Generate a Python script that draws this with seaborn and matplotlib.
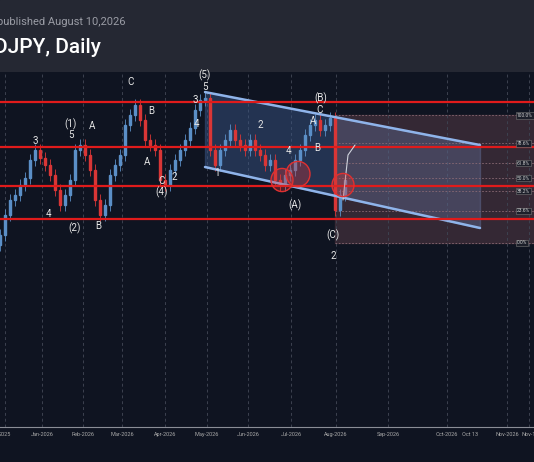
import numpy as np
import matplotlib.pyplot as plt
import seaborn as sns
from matplotlib.patches import Ellipse, Rectangle

closes = [146.5, 148.5, 150.0, 150.5, 151.5, 152.2, 154.0, 155.0, 154.2, 153.5,
          152.5, 151.0, 149.5, 150.5, 152.0, 155.0, 155.5, 154.5, 153.0, 150.0,
          148.5, 149.5, 152.5, 153.5, 154.5, 157.5, 158.5, 159.5, 158.0, 156.0,
          155.5, 155.0, 152.0, 151.5, 153.0, 154.0, 155.0, 156.0, 157.2, 159.0,
          160.0, 160.2, 155.0, 153.5, 155.0, 156.0, 157.0, 156.0, 155.5, 155.0,
          156.0, 155.0, 154.5, 153.5, 154.0, 152.0, 151.5, 152.5, 153.0, 154.0,
          155.0, 156.5, 157.5, 158.0, 157.0, 157.5, 158.2, 149.0, 150.5, 152.0]
red_levels = [159.8, 155.3, 151.4, 148.1]
fib_names = ["100.0%", "78.6%", "61.8%", "50.0%", "38.2%", "23.6%", "0.0%"]
fib_prices = [158.5, 155.7, 153.7, 152.2, 150.9, 148.9, 145.7]
chan_x = [205, 480]
chan_upper = [160.8, 155.5]
chan_lower = [153.3, 147.2]
proj_x = [343, 348, 355]
proj_y = [150.0, 154.5, 155.5]
tick_pos = [5, 42, 83, 122, 165, 207, 248, 291, 336, 388, 447, 470, 507, 529]
tick_lab = ["2025", "Jan-2026", "Feb-2026", "Mar-2026", "Apr-2026", "May-2026",
            "Jun-2026", "Jul-2026", "Aug-2026", "Sep-2026", "Oct-2026", "Oct 13",
            "Nov-2026", "Nov-1"]
waves = [("(5)", 205, 162.5), ("5", 205, 161.3), ("(B)", 321, 160.2), ("C", 320, 159.0),
         ("(C)", 333, 146.5), ("2", 333, 144.4), ("(A)", 295, 149.5), ("(4)", 162, 150.8),
         ("C", 162, 151.9), ("(2)", 75, 147.2), ("B", 98, 147.4), ("(1)", 71, 157.6),
         ("5", 71, 156.5), ("A", 92, 157.4), ("3", 35, 155.9), ("4", 48, 148.6),
         ("1", 217, 152.7), ("2", 174, 152.3), ("A", 147, 153.8), ("B", 151, 158.9),
         ("3", 195, 160.0), ("4", 197, 157.6), ("C", 131, 161.8), ("2", 260, 157.5),
         ("4", 288, 154.9), ("A", 313, 157.9), ("B", 317, 155.2)]

sns.set_style("dark")
plt.rcParams["font.family"] = ["Roboto", "DejaVu Sans"]

fig = plt.figure(figsize=(5.34, 4.62), dpi=100)
fig.patch.set_facecolor("#0f1421")
fig.add_artist(Rectangle((0, 0.844), 1, 0.156, transform=fig.transFigure,
                         color="#252833", zorder=0))
fig.text(-0.005, 0.945, "published August 10,2026", color="#9a9ca5", fontsize=8)
fig.text(-0.012, 0.885, "DJPY, Daily", color="white", fontsize=15, weight="medium")

ax = fig.add_axes([0, 0.076, 1, 0.768])
ax.set_facecolor("#0f1421")
ax.set_xlim(0, 534)
ax.set_ylim(127.3, 162.8)

# свечи
xs = np.arange(len(closes)) * 5
prev = closes[0] - 1.0
for x, c in zip(xs, closes):
    col = "#5b8fc7" if c >= prev else "#d93636"
    lo, hi = min(prev, c), max(prev, c)
    ax.vlines(x, lo - 0.6, hi + 0.6, color=col, lw=0.6, zorder=3)
    ax.add_patch(Rectangle((x - 1.2, lo), 2.4, max(hi - lo, 0.1), color=col, zorder=3))
    prev = c

# канал
ax.fill_between([chan_x[0], 335], [chan_upper[0], np.interp(335, chan_x, chan_upper)],
                [chan_lower[0], np.interp(335, chan_x, chan_lower)], color="#3c5a8c", alpha=0.45, zorder=1)
ax.fill_between([335, chan_x[1]], [np.interp(335, chan_x, chan_upper), chan_upper[1]],
                [np.interp(335, chan_x, chan_lower), chan_lower[1]], color="#6a7aa8", alpha=0.35, zorder=1)
sns.lineplot(x=chan_x, y=chan_upper, color="#8fb4ea", lw=1.8, ax=ax, zorder=4)
sns.lineplot(x=chan_x, y=chan_lower, color="#8fb4ea", lw=1.8, ax=ax, zorder=4)

# фибо-коробка
ax.add_patch(Rectangle((335, fib_prices[-1]), 199, fib_prices[0] - fib_prices[-1],
                       color="#3b2c38", alpha=0.85, zorder=0.5))
for name, p in zip(fib_names, fib_prices):
    ax.hlines(p, 335, 534, color="#8a6a74", lw=0.6, ls=(0, (2, 2)), zorder=2)
    ax.text(517, p, name, color="#d0d0d0", fontsize=3.5, va="center", ha="left",
            bbox=dict(boxstyle="square,pad=0.2", fc="#1c1f2a", ec="#777", lw=0.4), zorder=6)

for p in red_levels:
    ax.axhline(p, color="#e01b1b", lw=1.6, zorder=5)

sns.lineplot(x=proj_x, y=proj_y, color="#cfd3dc", lw=0.8, ax=ax, zorder=5)
for cx, cy, w in [(282, 152.0, 22), (298, 152.6, 24), (343, 151.5, 22)]:
    ax.add_patch(Ellipse((cx, cy), w, w / 9.5, fc="#d9363655", ec="#e03030", lw=1, zorder=5))

for t, x, y in waves:
    ax.text(x, y, t, color="#e6e6e6", fontsize=7, ha="center", va="center", zorder=7)

for x, lab in zip(tick_pos, tick_lab):
    if lab != "Oct 13":
        ax.axvline(x, color="#3d4250", lw=0.7, ls=(0, (3, 3)), zorder=0.8)
ax.set_xticks(tick_pos)
ax.set_xticklabels(tick_lab, fontsize=4, color="#aaaaaa")
ax.tick_params(axis="x", length=2, pad=2, colors="#aaaaaa")
ax.set_yticks([])
for s in ["top", "left", "right"]:
    ax.spines[s].set_visible(False)
ax.spines["bottom"].set_color("#8a8d96")
ax.grid(False)

fig.savefig("out.png", dpi=100, facecolor=fig.get_facecolor())
